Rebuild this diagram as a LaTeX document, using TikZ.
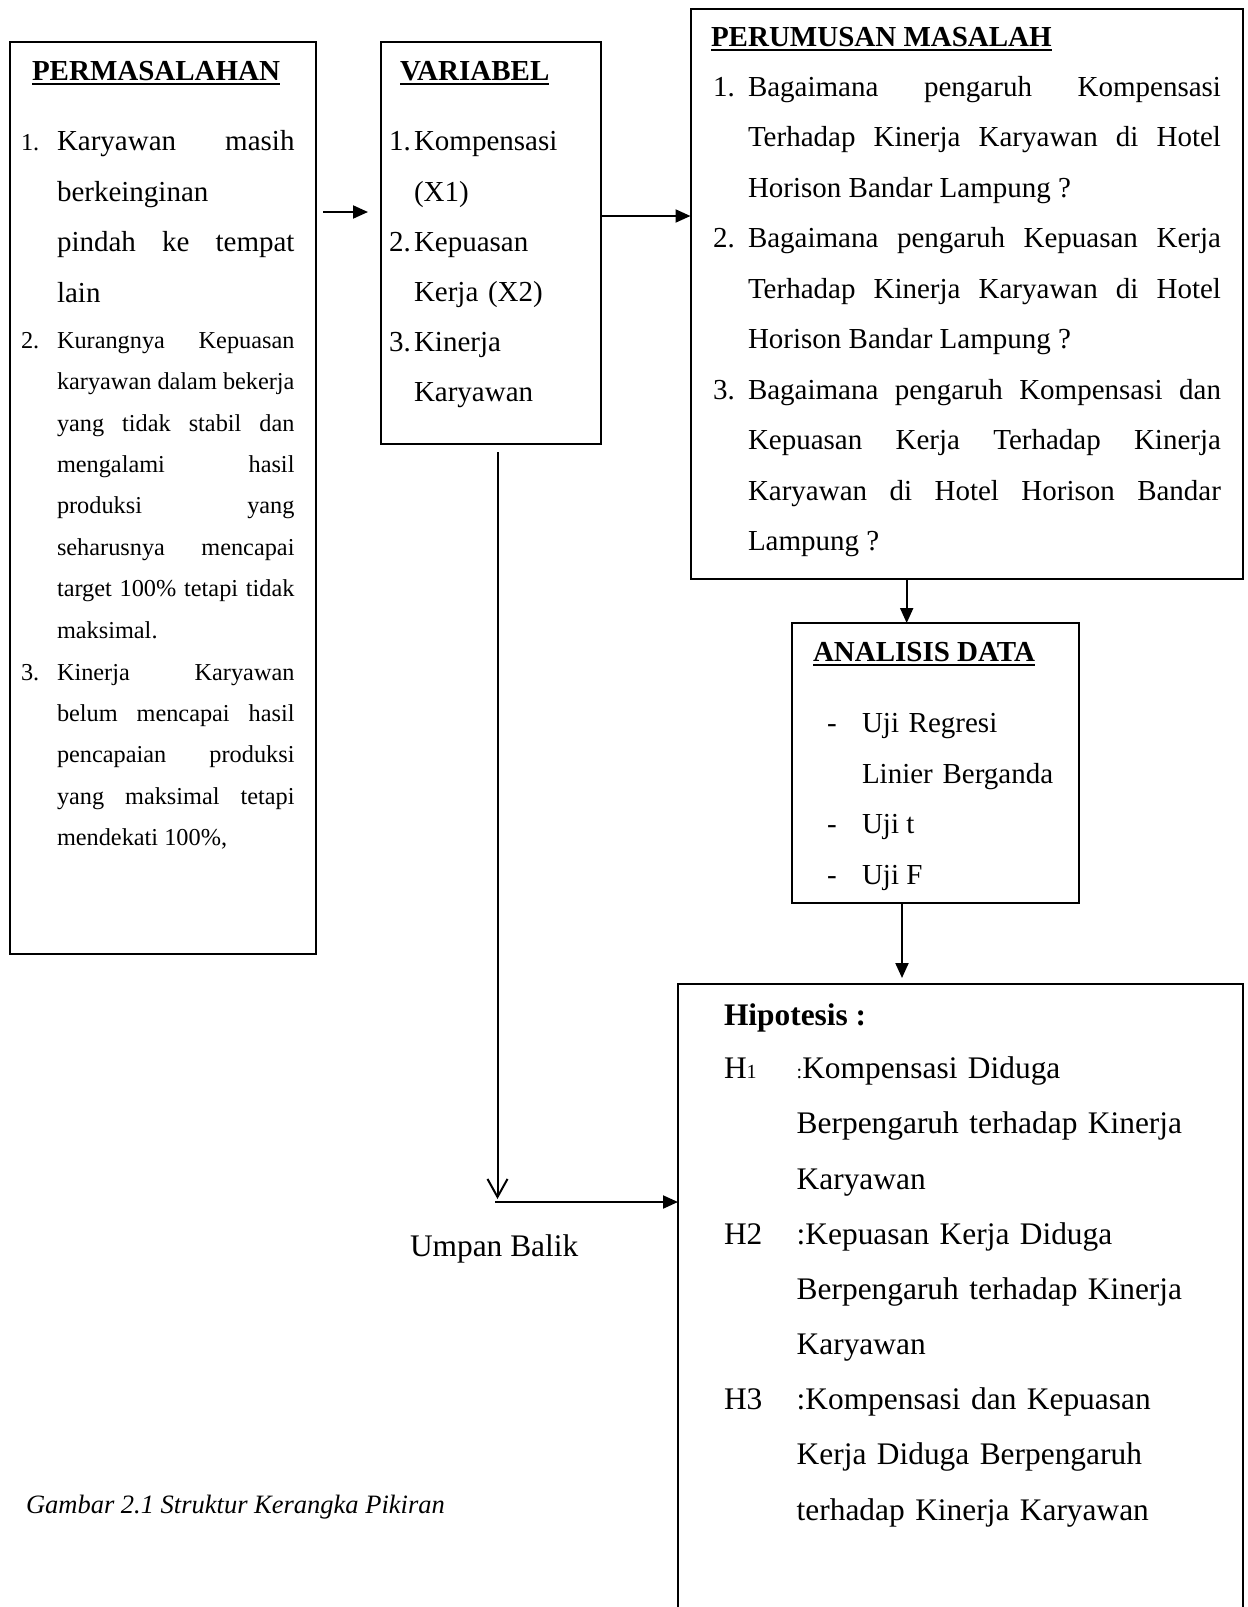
\documentclass[tikz,border=0pt]{standalone}
\usepackage{fontspec}
\setmainfont{Liberation Serif}
\usetikzlibrary{arrows.meta}

\newcommand\fbig{\fontsize{29}{50.5}\selectfont}
\newcommand\fsmall{\fontsize{24.3}{41.4}\selectfont}
\newcommand\fhip{\fontsize{31.4}{55.3}\selectfont}
\newcommand\fcap{\fontsize{26.5}{30}\selectfont\itshape}
\newcommand\hdr[1]{\setbox0\hbox{#1}\rlap{\rule[-4.5pt]{\wd0}{2pt}}\box0}

\tikzset{
  box/.style={draw, line width=2pt, inner sep=0pt, outer sep=0pt, anchor=north west},
  lbl/.style={anchor=base west, inner sep=0pt, outer sep=0pt},
  para/.style={lbl, align=justify, text width=#1,
    execute at begin node={\hyphenpenalty=10000\tolerance=10000}},
  lines/.style={lbl, align=left, text width=#1},
  conn/.style={line width=2pt, -{Triangle[length=15pt,width=13pt]}},
  back/.style={line width=2pt, -{Straight Barb[length=18pt,width=20pt]}},
}

\begin{document}
\begin{tikzpicture}[x=1pt, y=-1pt]
  \useasboundingbox (0,0) rectangle (1248,1607);
  \clip (0,0) rectangle (1248,1607);

  % boxes
  \node[box, minimum width=306pt, minimum height=912pt] (perm) at (10,42) {};
  \node[box, minimum width=220pt, minimum height=402pt] (var) at (381,42) {};
  \node[box, minimum width=552.5pt, minimum height=570pt] (rum) at (690.5,9) {};
  \node[box, minimum width=287pt, minimum height=280pt] (ana) at (792,623) {};
  \node[box, minimum width=565pt, minimum height=700pt] (hip) at (678,984) {};

  % permasalahan
  \node[lbl, font=\fbig\bfseries] (permhd) at (32,80) {\hdr{PERMASALAHAN}};
  \node[lbl, font=\fsmall] (pn1) at (21,150.7) {1.};
  \node[para=237.5pt, font=\fbig] (pt1) at (57,150.7)
    {Karyawan masih\linebreak berkeinginan\linebreak pindah ke tempat\linebreak lain};
  \node[lbl, font=\fsmall] (pn2) at (21,348.3) {2.};
  \node[para=237.5pt, font=\fsmall] (pt2) at (57,348.3)
    {Kurangnya Kepuasan\linebreak karyawan dalam bekerja\linebreak yang tidak stabil dan\linebreak
     mengalami hasil\linebreak produksi yang\linebreak seharusnya mencapai\linebreak
     target 100\% tetapi tidak\linebreak maksimal.};
  \node[lbl, font=\fsmall] (pn3) at (21,680) {3.};
  \node[para=237.5pt, font=\fsmall] (pt3) at (57,680)
    {Kinerja Karyawan\linebreak belum mencapai hasil\linebreak pencapaian produksi\linebreak
     yang maksimal tetapi\linebreak mendekati 100\%,};

  % variabel
  \node[lbl, font=\fbig\bfseries] (varhd) at (400,80.4) {\hdr{VARIABEL}};
  \node[lbl, font=\fbig] (vn1) at (389,150.6) {1.};
  \node[lines=180pt, font=\fbig] (vt1) at (414,150.6) {Kompensasi\\(X1)};
  \node[lbl, font=\fbig] (vn2) at (389,251) {2.};
  \node[lines=180pt, font=\fbig] (vt2) at (414,251) {Kepuasan\\Kerja (X2)};
  \node[lbl, font=\fbig] (vn3) at (389,351.4) {3.};
  \node[lines=180pt, font=\fbig] (vt3) at (414,351.4) {Kinerja\\Karyawan};

  % perumusan masalah
  \node[lbl, font=\fbig\bfseries] (rumhd) at (711,46.6) {\hdr{PERUMUSAN MASALAH}};
  \node[lbl, font=\fbig] (rn1) at (713,96.3) {1.};
  \node[para=473pt, font=\fbig] (rt1) at (748,96.3)
    {Bagaimana pengaruh Kompensasi\linebreak Terhadap Kinerja Karyawan di Hotel\linebreak
     Horison Bandar Lampung ?};
  \node[lbl, font=\fbig] (rn2) at (713,247.8) {2.};
  \node[para=473pt, font=\fbig] (rt2) at (748,247.8)
    {Bagaimana pengaruh Kepuasan Kerja\linebreak Terhadap Kinerja Karyawan di Hotel\linebreak
     Horison Bandar Lampung ?};
  \node[lbl, font=\fbig] (rn3) at (713,399.3) {3.};
  \node[para=473pt, font=\fbig] (rt3) at (748,399.3)
    {Bagaimana pengaruh Kompensasi dan\linebreak Kepuasan Kerja Terhadap Kinerja\linebreak
     Karyawan di Hotel Horison Bandar\linebreak Lampung ?};

  % analisis data
  \node[lbl, font=\fbig\bfseries] (anahd) at (813,661.5) {\hdr{ANALISIS DATA}};
  \node[lbl, font=\fbig] (ad1) at (827,732.7) {-};
  \node[lines=200pt, font=\fbig] (at1) at (862,732.7) {Uji Regresi\\Linier Berganda};
  \node[lbl, font=\fbig] (ad2) at (827,833.7) {-};
  \node[lbl, font=\fbig] (at2) at (862,833.7) {Uji t};
  \node[lbl, font=\fbig] (ad3) at (827,884.2) {-};
  \node[lbl, font=\fbig] (at3) at (862,884.2) {Uji F};

  % hipotesis
  \node[lbl, font=\fhip\bfseries] (hiphd) at (724,1025) {Hipotesis :};
  \node[lbl, font=\fhip] (h1) at (724,1078.4) {H{\fontsize{20}{20}\selectfont 1}};
  \node[lines=430pt, font=\fhip] (ht1) at (796.7,1078.4)
    {{\fontsize{20}{20}\selectfont :}Kompensasi Diduga\\Berpengaruh terhadap Kinerja\\Karyawan};
  \node[lbl, font=\fhip] (h2) at (724,1244.3) {H2};
  \node[lines=430pt, font=\fhip] (ht2) at (796.7,1244.3)
    {:Kepuasan Kerja Diduga\\Berpengaruh terhadap Kinerja\\Karyawan};
  \node[lbl, font=\fhip] (h3) at (724,1409.6) {H3};
  \node[lines=430pt, font=\fhip] (ht3) at (796.7,1409.6)
    {:Kompensasi dan Kepuasan\\Kerja Diduga Berpengaruh\\terhadap Kinerja Karyawan};

  \node[lbl, font=\fhip] (umpan) at (410,1256) {Umpan Balik};
  \node[lbl, font=\fcap] (cap) at (26,1513) {Gambar 2.1 Struktur Kerangka Pikiran};

  % connectors
  \coordinate (fb) at (497.5,1202);
  \draw[conn, shorten <=7pt, shorten >=13pt] (perm.east |- 0,212) -- (var.west |- 0,212);
  \draw[conn] (var.east |- 0,216) -- (rum.west |- 0,216);
  \draw[conn] (rum.south -| 906.7,0) -- (ana.north -| 906.7,0);
  \draw[conn, shorten >=6pt] (ana.south -| 902,0) -- (hip.north -| 902,0);
  \draw[back, shorten <=8pt, shorten >=3pt] (var.south -| fb) -- (fb);
  \draw[conn] ([xshift=-2.5pt]fb) -- (fb -| hip.west);
\end{tikzpicture}
\end{document}
